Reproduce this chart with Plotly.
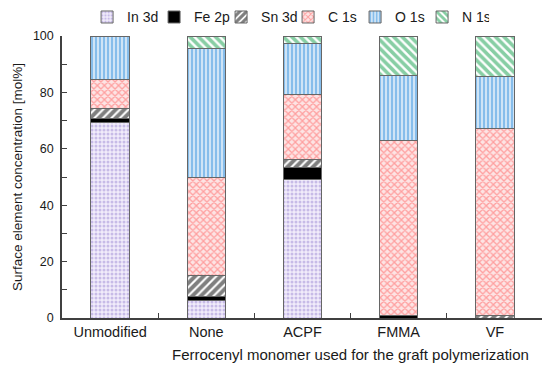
import plotly.graph_objects as go

categories = ["Unmodified", "None", "ACPF", "FMMA", "VF"]
in3d = [69.5, 6.1, 49.1, None, None]
fe2p = [1.4, 1.5, 4.2, 1.0, None]
sn3d = [3.3, 7.4, 3.0, None, 0.8]
c1s = [10.4, 34.8, 23.1, 61.9, 66.5]
o1s = [15.4, 45.8, 18.0, 23.1, 18.5]
n1s = [None, 4.4, 2.6, 14.0, 14.2]

series = [
    ("In 3d", in3d, dict(color="#f3eefa", pattern=dict(shape=".", fgcolor="#9d8ad3", bgcolor="#f1ecfa", size=4, solidity=0.45))),
    ("Fe 2p", fe2p, dict(color="black")),
    ("Sn 3d", sn3d, dict(color="white", pattern=dict(shape="/", fgcolor="black", bgcolor="white", size=6, solidity=0.65))),
    ("C 1s", c1s, dict(color="#fbe3e3", pattern=dict(shape="x", fgcolor="#ff5a5a", bgcolor="#fde4e4", size=5, solidity=0.45))),
    ("O 1s", o1s, dict(color="#d2e6f7", pattern=dict(shape="|", fgcolor="#3d95e0", bgcolor="#cfe4f6", size=4, solidity=0.5))),
    ("N 1s", n1s, dict(color="white", pattern=dict(shape="\\", fgcolor="#0f9e4a", bgcolor="white", size=6, solidity=0.6))),
]

fig = go.Figure()
for name, vals, mk in series:
    mk = dict(mk)
    mk["line"] = dict(color="#666666", width=1)
    fig.add_trace(go.Bar(x=categories, y=vals, name=name, marker=mk, width=0.4))

fig.update_layout(
    width=550, height=369,
    barmode="stack",
    plot_bgcolor="white", paper_bgcolor="white",
    margin=dict(l=54, r=15, t=28, b=59, autoexpand=False),
    font=dict(family="Liberation Sans, Arial, sans-serif", size=13, color="#1a1a1a"),
    legend=dict(orientation="h", x=0.47, xanchor="center", yref="paper", y=1.066, yanchor="middle",
                bgcolor="rgba(0,0,0,0)",
                font=dict(size=14), itemwidth=30, entrywidth=22, entrywidthmode="pixels",
                traceorder="normal", tracegroupgap=0),
    showlegend=True,
)
fig.update_xaxes(
    range=[-0.5, 4.5], showline=True, linecolor="#404040", linewidth=1.5,
    ticks="inside", tickson="boundaries", ticklen=5, tickcolor="#404040",
    showgrid=False, tickfont=dict(size=14.5),
)
fig.update_yaxes(
    range=[0, 100], dtick=20, showline=True, linecolor="#404040", linewidth=1.5,
    ticks="inside", ticklen=5, tickcolor="#404040", showgrid=False, zeroline=False,
    minor=dict(ticks="inside", dtick=10, ticklen=5, tickcolor="#404040"),
    title=dict(text="Surface element concentration [mol%]", font=dict(size=13.5), standoff=7),
    tickfont=dict(size=12.5), ticklabelstandoff=4,
)
fig.add_annotation(
    text="Ferrocenyl monomer used for the graft polymerization",
    xref="paper", yref="paper", x=0.599, y=0, yanchor="middle", xanchor="center",
    yshift=-36, showarrow=False, font=dict(size=15),
)
fig.write_html("out.html")
